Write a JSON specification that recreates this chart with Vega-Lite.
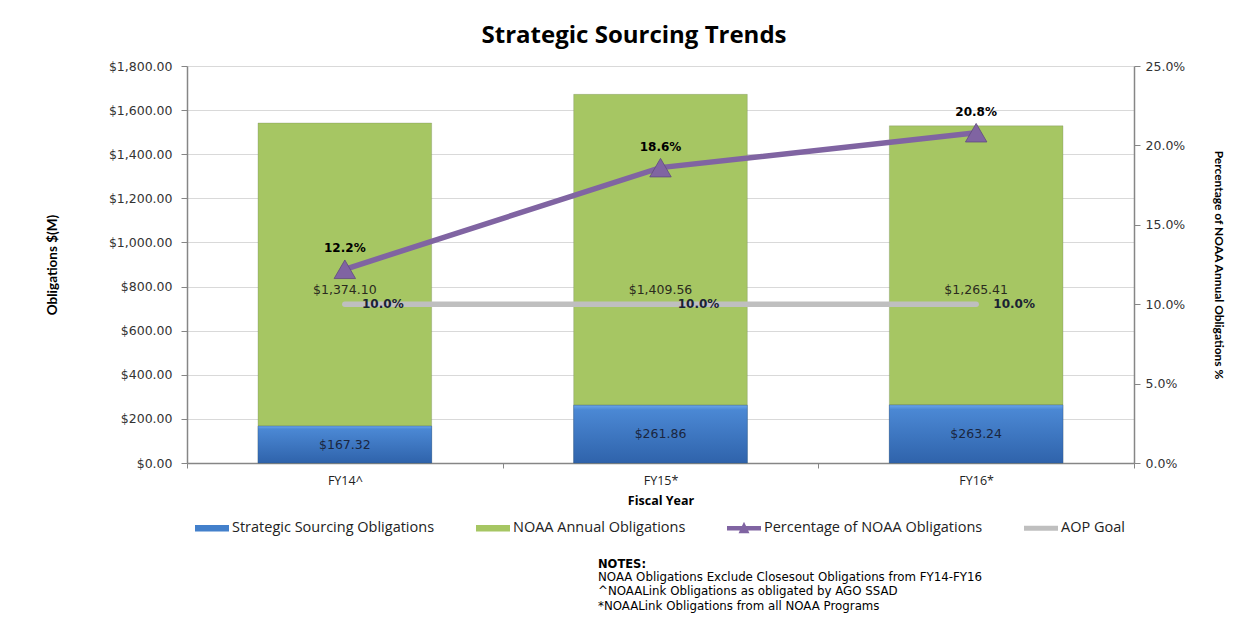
{
  "$schema": "https://vega.github.io/schema/vega-lite/v6.json",
  "background": "white",
  "padding": {"left": 45, "top": 24, "right": 10, "bottom": 0},
  "title": {"text": "Strategic Sourcing Trends", "font": "Open Sans", "fontSize": 24, "fontWeight": "bold", "color": "#000000", "anchor": "middle", "dx": -1, "offset": 12},
  "datasets": {
    "bars": [
      {"fy": "FY14^", "series": "Strategic Sourcing Obligations", "value": 167.32},
      {"fy": "FY14^", "series": "NOAA Annual Obligations", "value": 1374.10},
      {"fy": "FY15*", "series": "Strategic Sourcing Obligations", "value": 261.86},
      {"fy": "FY15*", "series": "NOAA Annual Obligations", "value": 1409.56},
      {"fy": "FY16*", "series": "Strategic Sourcing Obligations", "value": 263.24},
      {"fy": "FY16*", "series": "NOAA Annual Obligations", "value": 1265.41}
    ],
    "pct": [
      {"fy": "FY14^", "series": "Percentage of NOAA Obligations", "pct": 0.122},
      {"fy": "FY15*", "series": "Percentage of NOAA Obligations", "pct": 0.186},
      {"fy": "FY16*", "series": "Percentage of NOAA Obligations", "pct": 0.208},
      {"fy": "FY14^", "series": "AOP Goal", "pct": 0.10},
      {"fy": "FY15*", "series": "AOP Goal", "pct": 0.10},
      {"fy": "FY16*", "series": "AOP Goal", "pct": 0.10}
    ]
  },
  "vconcat": [
    {
      "width": 947,
      "height": 397,
      "title": {
        "text": "NOTES:",
        "subtitle": ["NOAA Obligations Exclude Closesout Obligations from FY14-FY16", "^NOAALink Obligations as obligated by AGO SSAD", "*NOAALink Obligations from all NOAA Programs"],
        "orient": "bottom",
        "anchor": "start",
        "frame": "group",
        "dx": 411,
        "offset": 52,
        "font": "DejaVu Sans",
        "fontSize": 11.5,
        "fontWeight": "bold",
        "color": "#000000",
        "subtitleFont": "DejaVu Sans",
        "subtitleFontSize": 11.8,
        "subtitleColor": "#000000",
        "subtitleLineHeight": 14.5,
        "subtitlePadding": 1
      },
      "encoding": {
        "x": {
          "field": "fy", "type": "nominal", "sort": ["FY14^", "FY15*", "FY16*"],
          "scale": {"paddingInner": 0, "paddingOuter": 0},
          "axis": {"title": "Fiscal Year", "titleFont": "Open Sans", "titleFontSize": 12.5, "titleFontWeight": "bold", "titleColor": "#000000", "titlePadding": 8,
                   "labelAngle": 0, "labelFont": "Open Sans", "labelFontSize": 12.5, "labelColor": "#222222", "labelPadding": 6,
                   "tickBand": "extent", "tickSize": 5, "tickColor": "#868686", "domainColor": "#868686", "domainWidth": 1.5, "grid": false}
        }
      },
      "layer": [
        {
          "data": {"name": "bars"},
          "mark": {"type": "bar", "width": {"band": 0.55}, "stroke": "#6d7f57", "strokeWidth": 0.6, "strokeOpacity": 0.5},
          "encoding": {
            "y": {"field": "value", "type": "quantitative", "stack": "zero",
                  "scale": {"domain": [0, 1800], "nice": false, "zero": true},
                  "axis": {"title": "Obligations $(M)", "titleFont": "Lato", "titleFontSize": 13.5, "titleFontWeight": "bold", "titleColor": "#000000", "titlePadding": 49,
                           "format": "$,.2f", "values": [0, 200, 400, 600, 800, 1000, 1200, 1400, 1600, 1800],
                           "labelFont": "DejaVu Sans", "labelFontSize": 12.5, "labelColor": "#333333", "labelPadding": 9,
                           "tickSize": 6, "tickColor": "#868686", "domainColor": "#868686", "domainWidth": 1.5,
                           "grid": true, "gridColor": "#d9d9d9", "gridWidth": 1}},
            "color": {
              "field": "series", "type": "nominal",
              "scale": {"domain": ["Strategic Sourcing Obligations", "NOAA Annual Obligations", "Percentage of NOAA Obligations", "AOP Goal"],
                        "range": ["#4380cb", "#a6c663", "#8064a2", "#bfbfbf"]},
              "legend": {
                "title": null, "orient": "none", "legendX": 8, "legendY": 445, "direction": "horizontal",
                "labelFont": "Open Sans", "labelFontSize": 14.5, "labelColor": "#222222", "labelOffset": 3, "labelLimit": 0,
                "symbolSize": 1156, "columnPadding": 41,
                "encoding": {"symbols": {
                  "shape": {"value": {"expr": "datum.value == 'AOP Goal' ? 'M-1,-0.14H1V0.14H-1Z' : datum.value == 'Percentage of NOAA Obligations' ? 'M-1,-0.13H1V0.13H-1Z M-0.32,0.3L0,-0.38L0.32,0.3Z' : 'M-1,-0.19H1V0.19H-1Z'"}},
                  "strokeWidth": {"value": 0},
                  "opacity": {"value": 1}
                }}
              }
            },
            "order": {"field": "series", "sort": "descending"}
          }
        },
        {
          "data": {"name": "bars"},
          "transform": [{"filter": "datum.series == 'Strategic Sourcing Obligations'"}],
          "mark": {"type": "bar", "width": {"band": 0.55},
                   "fill": {"gradient": "linear", "x1": 0, "y1": 0, "x2": 0, "y2": 1,
                            "stops": [{"offset": 0, "color": "#6aa6ea"}, {"offset": 0.08, "color": "#4b88d4"}, {"offset": 1, "color": "#2f63ab"}]},
                   "stroke": "#2c558f", "strokeWidth": 0.6, "strokeOpacity": 0.6},
          "encoding": {
            "y": {"field": "value", "type": "quantitative", "scale": {"domain": [0, 1800], "nice": false}, "axis": null}
          }
        },
        {
          "data": {"name": "bars"},
          "transform": [{"filter": "datum.series == 'Strategic Sourcing Obligations'"}],
          "mark": {"type": "text", "font": "DejaVu Sans", "fontSize": 12.5, "color": "#1a2640", "baseline": "middle"},
          "encoding": {
            "y": {"field": "value", "type": "quantitative", "scale": {"domain": [0, 3600], "nice": false}, "axis": null},
            "text": {"field": "value", "type": "quantitative", "format": "$,.2f"}
          }
        },
        {
          "data": {"name": "bars"},
          "transform": [{"filter": "datum.series == 'NOAA Annual Obligations'"}],
          "mark": {"type": "text", "font": "DejaVu Sans", "fontSize": 12.5, "color": "#2b2b1e", "baseline": "middle"},
          "encoding": {
            "y": {"datum": 785, "type": "quantitative", "scale": {"domain": [0, 1800], "nice": false}, "axis": null},
            "text": {"field": "value", "type": "quantitative", "format": "$,.2f"}
          }
        },
        {
          "data": {"name": "pct"},
          "mark": {"type": "line", "strokeWidth": 5.5, "strokeCap": "round"},
          "encoding": {
            "y": {"field": "pct", "type": "quantitative",
                  "scale": {"domain": [0, 0.25], "nice": false},
                  "axis": {"orient": "right", "title": "Percentage of NOAA Annual Obligations %", "titleAngle": 90, "titleFont": "Lato", "titleFontSize": 12, "titleFontWeight": "bold", "titleColor": "#000000", "titlePadding": 27,
                           "format": ".1%", "values": [0, 0.05, 0.1, 0.15, 0.2, 0.25],
                           "labelFont": "DejaVu Sans", "labelFontSize": 12.5, "labelColor": "#333333", "labelPadding": 5,
                           "tickSize": 6, "tickColor": "#868686", "domainColor": "#868686", "domainWidth": 1.5, "grid": false}},
            "color": {"field": "series", "type": "nominal"}
          }
        },
        {
          "data": {"name": "pct"},
          "transform": [{"filter": "datum.series == 'Percentage of NOAA Obligations'"}],
          "mark": {"type": "point", "shape": "triangle-up", "size": 460, "filled": true, "opacity": 1, "stroke": "#5f4a7d", "strokeWidth": 0.8},
          "encoding": {
            "y": {"field": "pct", "type": "quantitative", "scale": {"domain": [0, 0.25], "nice": false}, "axis": null},
            "color": {"field": "series", "type": "nominal"}
          }
        },
        {
          "data": {"name": "pct"},
          "transform": [{"filter": "datum.series == 'Percentage of NOAA Obligations'"}],
          "mark": {"type": "text", "font": "DejaVu Sans", "fontSize": 12, "fontWeight": "bold", "color": "#000000", "dy": -21, "baseline": "middle"},
          "encoding": {
            "y": {"field": "pct", "type": "quantitative", "scale": {"domain": [0, 0.25], "nice": false}, "axis": null},
            "text": {"field": "pct", "type": "quantitative", "format": ".1%"}
          }
        },
        {
          "data": {"name": "pct"},
          "transform": [{"filter": "datum.series == 'AOP Goal'"}],
          "mark": {"type": "text", "font": "DejaVu Sans", "fontSize": 12, "fontWeight": "bold", "color": "#1a2233", "dx": 38, "baseline": "middle"},
          "encoding": {
            "y": {"field": "pct", "type": "quantitative", "scale": {"domain": [0, 0.25], "nice": false}, "axis": null},
            "text": {"field": "pct", "type": "quantitative", "format": ".1%"}
          }
        }
      ],
      "resolve": {"scale": {"y": "independent"}}
    }
  ],
  "config": {
    "view": {"stroke": null},
    "axis": {"labelOverlap": false}
  }
}
